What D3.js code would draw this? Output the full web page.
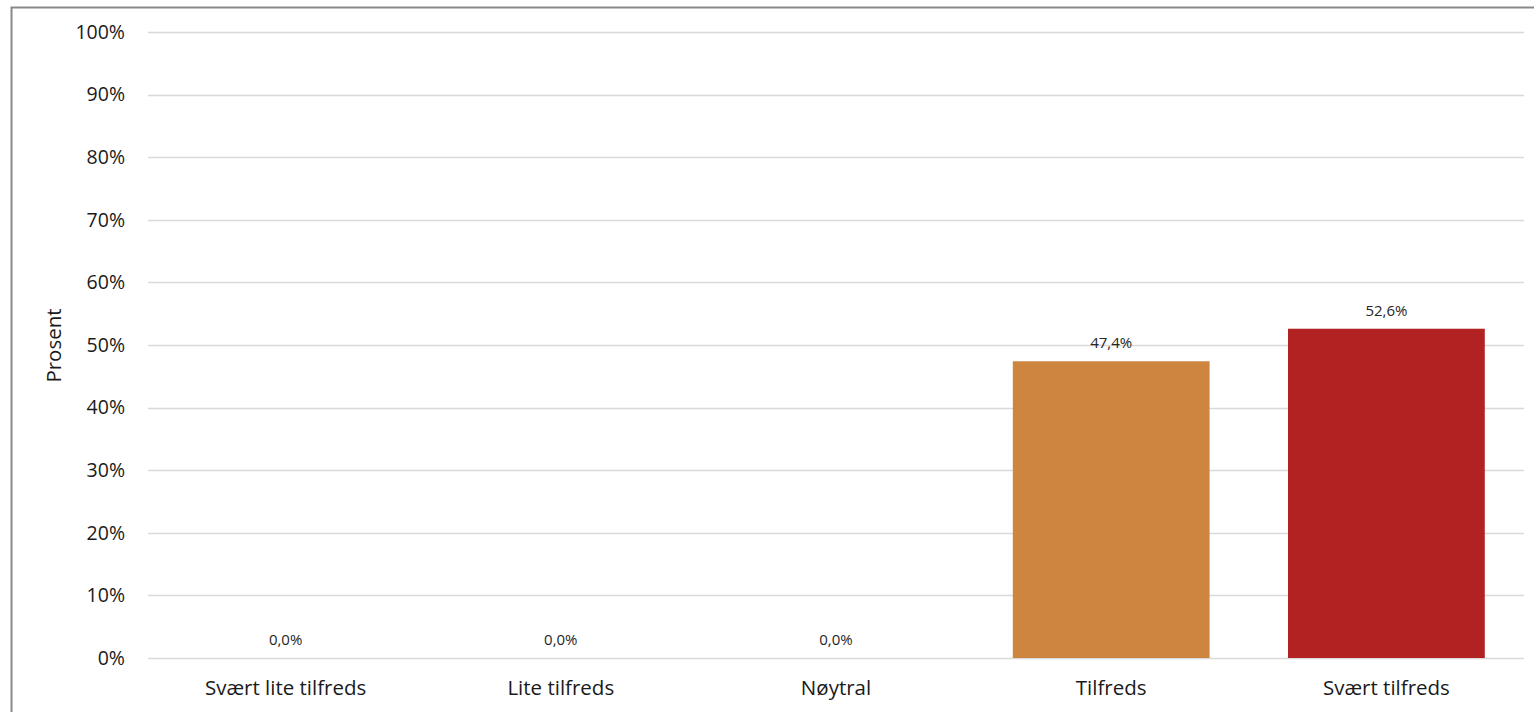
<!DOCTYPE html>
<html>
<head>
<meta charset="utf-8">
<script src="https://cdn.jsdelivr.net/npm/d3@7"></script>
<style>
html,body{margin:0;padding:0;background:#fff;overflow:hidden;}
svg{display:block;font-family:"Open Sans","Lato",sans-serif;}
</style>
</head>
<body>
<svg id="chart" width="1534" height="712"></svg>
<script>
const categories = ["Svært lite tilfreds", "Lite tilfreds", "Nøytral", "Tilfreds", "Svært tilfreds"];
const values = [0.0, 0.0, 0.0, 47.4, 52.6];
const colors = ["#CD853F", "#CD853F", "#CD853F", "#CD853F", "#B22222"];
const yTicks = [0, 10, 20, 30, 40, 50, 60, 70, 80, 90, 100];
const yTitle = "Prosent";

(function () {
const svg = d3.select("#chart");
const mLeft = 148, mRight = 1524, mTop = 32, mBottom = 658;
const FONT = "'Open Sans', Lato, sans-serif";

// outer frame (top and left edges visible)
svg.append("path").attr("d", "M11.5,712 L11.5,7.5 L1534,7.5")
  .attr("fill", "none").attr("stroke", "#898989").attr("stroke-width", 2);

const x = d3.scaleBand().domain(categories).range([mLeft, mRight]).paddingInner(0.285).paddingOuter(0.1425);
const y = d3.scaleLinear().domain([0, 100]).range([mBottom, mTop]);

const fmt = v => v.toFixed(1).replace(".", ",") + "%";

// gridlines
svg.append("g").selectAll("line").data(yTicks).join("line")
  .attr("x1", mLeft).attr("x2", mRight)
  .attr("y1", d => Math.round(y(d)) + 0.5).attr("y2", d => Math.round(y(d)) + 0.5)
  .attr("stroke", "#d9d9d9").attr("stroke-width", 1.5);

// y axis labels
const yAxis = d3.axisLeft(y).tickValues(yTicks).tickFormat(d => d + "%").tickSize(0).tickPadding(0);
const gy = svg.append("g").attr("transform", `translate(${mLeft - 23},0)`).call(yAxis);
gy.select(".domain").remove();
gy.selectAll("text").attr("font-size", 19.5).attr("fill", "#1a1a1a").attr("font-family", FONT);

// bars
svg.append("g").selectAll("rect").data(values).join("rect")
  .attr("x", (d, i) => x(categories[i]))
  .attr("width", x.bandwidth())
  .attr("y", d => y(d))
  .attr("height", d => y(0) - y(d))
  .attr("fill", (d, i) => colors[i]);

// data labels
svg.append("g").selectAll("text").data(values).join("text")
  .attr("x", (d, i) => x(categories[i]) + x.bandwidth() / 2)
  .attr("y", d => y(d) - 13)
  .attr("text-anchor", "middle")
  .attr("font-size", 15)
  .attr("fill", "#262626")
  .attr("font-family", FONT)
  .text(d => fmt(d));

// x axis labels
const xAxis = d3.axisBottom(x).tickSize(0).tickPadding(0);
const gx = svg.append("g").attr("transform", `translate(0,${mBottom + 22})`).call(xAxis);
gx.select(".domain").remove();
gx.selectAll("text").attr("font-size", 20.5).attr("fill", "#1a1a1a").attr("font-family", FONT);

// y title
svg.append("text")
  .attr("transform", `translate(61,345.5) rotate(-90)`)
  .attr("text-anchor", "middle")
  .attr("font-size", 20.5)
  .attr("fill", "#1a1a1a")
  .attr("font-family", FONT)
  .text(yTitle);
})();
</script>
</body>
</html>
